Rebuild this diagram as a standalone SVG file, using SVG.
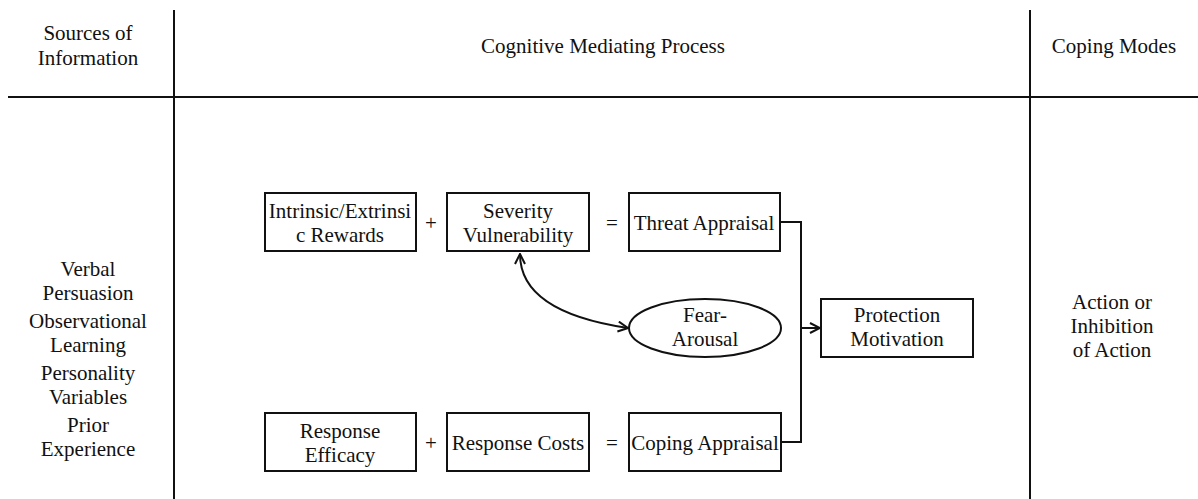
<svg xmlns="http://www.w3.org/2000/svg" width="1198" height="499" viewBox="0 0 1198 499">
<defs>
<style>
text{font-family:"Liberation Serif","Times New Roman",serif;font-size:21px;fill:#111;text-anchor:middle}
.box{fill:#fff;stroke:#111;stroke-width:2}
.ln{fill:none;stroke:#111;stroke-width:2}
.grid{fill:none;stroke:#111;stroke-width:2}
</style>
<marker id="ah" viewBox="0 0 12 12" refX="11" refY="6" markerWidth="12" markerHeight="12" markerUnits="userSpaceOnUse" orient="auto-start-reverse">
<path d="M1,1 L11,6 L1,11" fill="none" stroke="#111" stroke-width="2"/>
</marker>
</defs>
<rect width="1198" height="499" fill="#fff"/>
<g id="grid">
<line class="grid" x1="174" y1="10" x2="174" y2="499"/>
<line class="grid" x1="1030" y1="10" x2="1030" y2="499"/>
<line class="grid" x1="8" y1="97" x2="1198" y2="97"/>
</g>
<g id="headers">
<text x="88" y="40">Sources of</text>
<text x="88" y="65">Information</text>
<text x="603" y="53">Cognitive Mediating Process</text>
<text x="1114" y="53">Coping Modes</text>
</g>
<g id="sources">
<text x="88" y="276">Verbal</text>
<text x="88" y="300">Persuasion</text>
<text x="88" y="328">Observational</text>
<text x="88" y="352">Learning</text>
<text x="88" y="380">Personality</text>
<text x="88" y="404">Variables</text>
<text x="88" y="432">Prior</text>
<text x="88" y="456">Experience</text>
</g>
<g id="rewards">
<rect class="box" x="265" y="193" width="151" height="58"/>
<text x="340" y="218">Intrinsic/Extrinsi</text>
<text x="340" y="242">c Rewards</text>
</g>
<text x="431" y="230">+</text>
<g id="severity">
<rect class="box" x="447" y="193" width="142" height="58"/>
<text x="518" y="218">Severity</text>
<text x="518" y="242">Vulnerability</text>
</g>
<text x="612" y="230">=</text>
<g id="threat">
<rect class="box" x="629" y="193" width="151" height="58"/>
<text x="704" y="230">Threat Appraisal</text>
</g>
<g id="fear">
<ellipse class="box" cx="705" cy="328" rx="76" ry="29"/>
<text x="705" y="322">Fear-</text>
<text x="705" y="346">Arousal</text>
</g>
<g id="protection">
<rect class="box" x="821" y="299" width="152" height="58"/>
<text x="897" y="322">Protection</text>
<text x="897" y="346">Motivation</text>
</g>
<g id="efficacy">
<rect class="box" x="265" y="413" width="151" height="58"/>
<text x="340" y="438">Response</text>
<text x="340" y="462">Efficacy</text>
</g>
<text x="431" y="450">+</text>
<g id="costs">
<rect class="box" x="447" y="413" width="142" height="58"/>
<text x="518" y="450">Response Costs</text>
</g>
<text x="612" y="450">=</text>
<g id="coping">
<rect class="box" x="629" y="413" width="152" height="58"/>
<text x="705" y="450">Coping Appraisal</text>
</g>
<g id="modes">
<text x="1112" y="309">Action or</text>
<text x="1112" y="333">Inhibition</text>
<text x="1112" y="357">of Action</text>
</g>
<g id="connectors">
<path class="ln" d="M780,222 H801 V442 H781"/>
<line class="ln" x1="801" y1="328" x2="820" y2="328" marker-end="url(#ah)"/>
<path class="ln" d="M520,254 Q520,312 628,328" marker-start="url(#ah)" marker-end="url(#ah)"/>
</g>
</svg>
